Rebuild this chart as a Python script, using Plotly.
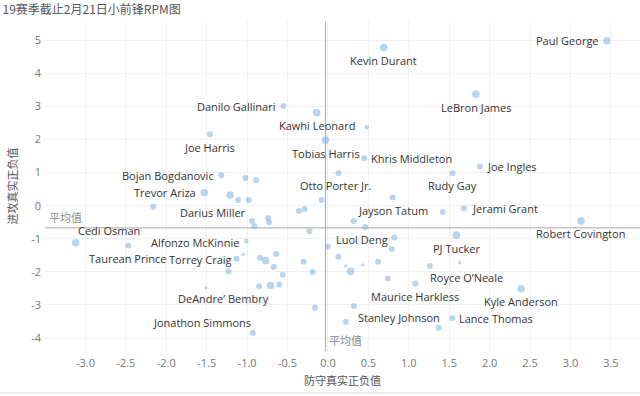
import plotly.graph_objects as go

TITLE = "19赛季截止2月21日小前锋RPM图"
X_TITLE = "防守真实正负值"
Y_TITLE = "进攻真实正负值"
AVG_TEXT = "平均值"

PLAYERS = [
    "Paul George", "Kevin Durant", "LeBron James", "Danilo Gallinari", "Kawhi Leonard",
    "Joe Harris", "Tobias Harris", "Khris Middleton", "Joe Ingles", "Rudy Gay",
    "Otto Porter Jr.", "Bojan Bogdanovic", "Trevor Ariza", "Jayson Tatum", "Jerami Grant",
    "Robert Covington", "Darius Miller", "Cedi Osman", "Taurean Prince", "Alfonzo McKinnie",
    "Torrey Craig", "DeAndre’ Bembry", "Jonathon Simmons", "Luol Deng", "PJ Tucker",
    "Royce O’Neale", "Maurice Harkless", "Kyle Anderson", "Stanley Johnson", "Lance Thomas",
] + [""] * 41

DRPM = [
    3.45, 0.69, 1.83, -0.55, -0.14, -1.46, -0.03, 0.45, 1.88, 1.54,
    0.13, -1.32, -1.53, 0.80, 1.68, 3.13, -0.98, -3.12, -2.47, -1.01,
    -1.13, -0.71, -0.93, 0.82, 1.59, 1.63, 1.08, 2.39, 0.32, 1.54,
    0.48, -1.02, -0.89, -1.21, -1.11, -0.36, -0.29, -0.08, -0.94, -0.91,
    -0.74, -0.73, -0.23, 0.00, -2.16, -1.05, -0.84, -0.77, -0.64, -0.67,
    -0.30, -0.19, -0.56, -1.23, -1.51, -0.85, -0.60, -0.16, 0.13, 0.22,
    0.22, 0.32, 0.46, 0.79, 0.43, 0.62, 0.28, 0.74, 1.26, 1.37,
    1.42,
]

ORPM = [
    4.98, 4.78, 3.37, 3.01, 2.81, 2.16, 1.98, 1.43, 1.18, 0.98,
    0.98, 0.92, 0.39, 0.25, -0.08, -0.46, 0.17, -1.12, -1.20, -1.07,
    -1.60, -2.41, -3.84, -0.96, -0.89, -1.73, -2.35, -2.51, -3.03, -3.40,
    2.37, 0.84, 0.77, 0.32, 0.17, -0.16, -0.10, 0.17, -0.46, -0.62,
    -0.37, -0.50, -0.77, -1.24, -0.03, -1.47, -1.57, -1.66, -1.46, -1.85,
    -1.69, -2.00, -2.09, -1.98, -2.48, -2.43, -2.38, -3.08, -1.54, -1.82,
    -3.51, -0.46, -0.64, -1.31, -1.79, -1.69, -1.98, -2.20, -1.82, -3.69,
    -0.19,
]

# relative weight of each player (drives marker size)
WEIGHT = [
    4, 4, 4, 3, 4, 3, 4, 3, 3, 3,
    3, 3, 4, 3, 3, 4, 3, 4, 3, 2,
    3, 4, 3, 3, 4, 1, 3, 4, 3, 3,
    2, 3, 3, 4, 3, 3, 3, 3, 3, 3,
    3, 3, 3, 3, 3, 1, 3, 4, 3, 3,
    3, 3, 3, 3, 1, 3, 3, 3, 3, 1,
    3, 3, 3, 3, 1, 3, 4, 3, 3, 3,
    3,
]

AVG_DRPM = -0.03
AVG_ORPM = -0.67

X_TICKS = [-3.0, -2.5, -2.0, -1.5, -1.0, -0.5, 0.0, 0.5, 1.0, 1.5, 2.0, 2.5, 3.0, 3.5]
Y_TICKS = [-4, -3, -2, -1, 0, 1, 2, 3, 4, 5]

# ---- styling ----
SIZE_PX = {1: 3.2, 2: 4.5, 3: 6.0, 4: 7.6}
LABEL_POS = {
    "Paul George": ("right", -6, 0),
    "Kevin Durant": ("center", 0, -13),
    "LeBron James": ("center", 0, -13),
    "Danilo Gallinari": ("right", -6, 0),
    "Kawhi Leonard": ("center", 0, -13),
    "Joe Harris": ("center", 0, -13),
    "Tobias Harris": ("center", 0, -13),
    "Khris Middleton": ("left", 5, 0),
    "Joe Ingles": ("left", 5, 0),
    "Rudy Gay": ("center", 0, -12),
    "Otto Porter Jr.": ("center", -2, -12),
    "Bojan Bogdanovic": ("right", -5, 0),
    "Trevor Ariza": ("right", -6, 0),
    "Jayson Tatum": ("center", 0, -13),
    "Jerami Grant": ("left", 6, 0),
    "Robert Covington": ("center", 0, -13),
    "Darius Miller": ("right", -1, -12),
    "Cedi Osman": ("left", 0, 12),
    "Taurean Prince": ("center", -1, -13),
    "Alfonzo McKinnie": ("right", -4, -1),
    "Torrey Craig": ("right", -3, -1),
    "DeAndre’ Bembry": ("right", 0, -13),
    "Jonathon Simmons": ("right", 0, 10),
    "Luol Deng": ("right", -4, -2),
    "PJ Tucker": ("center", 0, -13),
    "Royce O’Neale": ("center", 7, -15),
    "Maurice Harkless": ("center", 0, -13),
    "Kyle Anderson": ("center", 0, -13),
    "Stanley Johnson": ("left", 2, -12),
    "Lance Thomas": ("left", 5, 0),
}

FONT = "Open Sans, Noto Sans CJK SC, sans-serif"
CJK = "Noto Sans CJK SC, sans-serif"

fig = go.Figure()
fig.add_trace(go.Scatter(
    x=DRPM, y=ORPM, mode="markers",
    marker=dict(size=[SIZE_PX[w] for w in WEIGHT], color="rgba(122,176,222,0.75)", line=dict(width=0)),
    hoverinfo="skip",
))

annotations = []
for name, xv, yv in zip(PLAYERS, DRPM, ORPM):
    if not name:
        continue
    anchor, dx, dy = LABEL_POS[name]
    annotations.append(dict(
        x=xv, y=yv, xref="x", yref="y", text=name, showarrow=False,
        xanchor=anchor, yanchor="middle", xshift=dx, yshift=dy,
        font=dict(family=FONT, size=11, color="#333333"),
    ))

# average reference labels
annotations.append(dict(x=0.003, y=AVG_ORPM, xref="paper", yref="y", text=AVG_TEXT,
                        showarrow=False, xanchor="left", yanchor="bottom", yshift=1,
                        font=dict(family=CJK, size=11, color="#8a8a8a")))
annotations.append(dict(x=AVG_DRPM, y=0.0, xref="x", yref="paper", text=AVG_TEXT,
                        showarrow=False, xanchor="left", yanchor="bottom", xshift=1, yshift=1,
                        font=dict(family=CJK, size=11, color="#8a8a8a")))
# axis titles
annotations.append(dict(x=0.5, y=-0.088, xref="paper", yref="paper", text=X_TITLE,
                        showarrow=False, xanchor="center", yanchor="middle",
                        font=dict(family=CJK, size=11, color="#555555")))
annotations.append(dict(x=-0.057, y=0.5, xref="paper", yref="paper", text=Y_TITLE,
                        showarrow=False, xanchor="center", yanchor="middle", textangle=-90,
                        font=dict(family=CJK, size=11, color="#555555")))

shapes = [
    dict(type="line", xref="paper", yref="y", x0=0, x1=1, y0=AVG_ORPM, y1=AVG_ORPM,
         line=dict(color="#a8a8a8", width=1)),
    dict(type="line", xref="x", yref="paper", x0=AVG_DRPM, x1=AVG_DRPM, y0=0, y1=1,
         line=dict(color="#a8a8a8", width=1)),
    dict(type="line", xref="paper", yref="paper", x0=-0.08, x1=1.0, y0=-0.128, y1=-0.128,
         line=dict(color="#ececec", width=2)),
]

fig.update_layout(
    width=640, height=396,
    margin=dict(l=45, r=0, t=22, b=45),
    paper_bgcolor="white", plot_bgcolor="white",
    showlegend=False,
    title=dict(text=TITLE, x=0.004, xref="container", xanchor="left",
               y=1 - 10 / 396, yref="container", yanchor="middle",
               font=dict(family=CJK, size=12, color="#555555")),
    xaxis=dict(range=[-3.5, 3.86], tickvals=X_TICKS, ticktext=[f"{v:.1f}" for v in X_TICKS],
               showgrid=True, gridcolor="#f0f0f0", gridwidth=1, zeroline=False, showline=False,
               ticks="", ticklabelstandoff=4,
               tickfont=dict(family=FONT, size=11, color="#777777")),
    yaxis=dict(range=[-4.39, 5.55], tickvals=Y_TICKS, ticktext=[str(v) for v in Y_TICKS],
               showgrid=True, gridcolor="#f0f0f0", gridwidth=1, zeroline=False, showline=False,
               ticks="", ticklabelstandoff=3,
               tickfont=dict(family=FONT, size=11, color="#777777")),
    annotations=annotations,
    shapes=shapes,
)

fig.write_html("out.html", config={"displayModeBar": False},
               post_script="document.body.style.margin='0';")
